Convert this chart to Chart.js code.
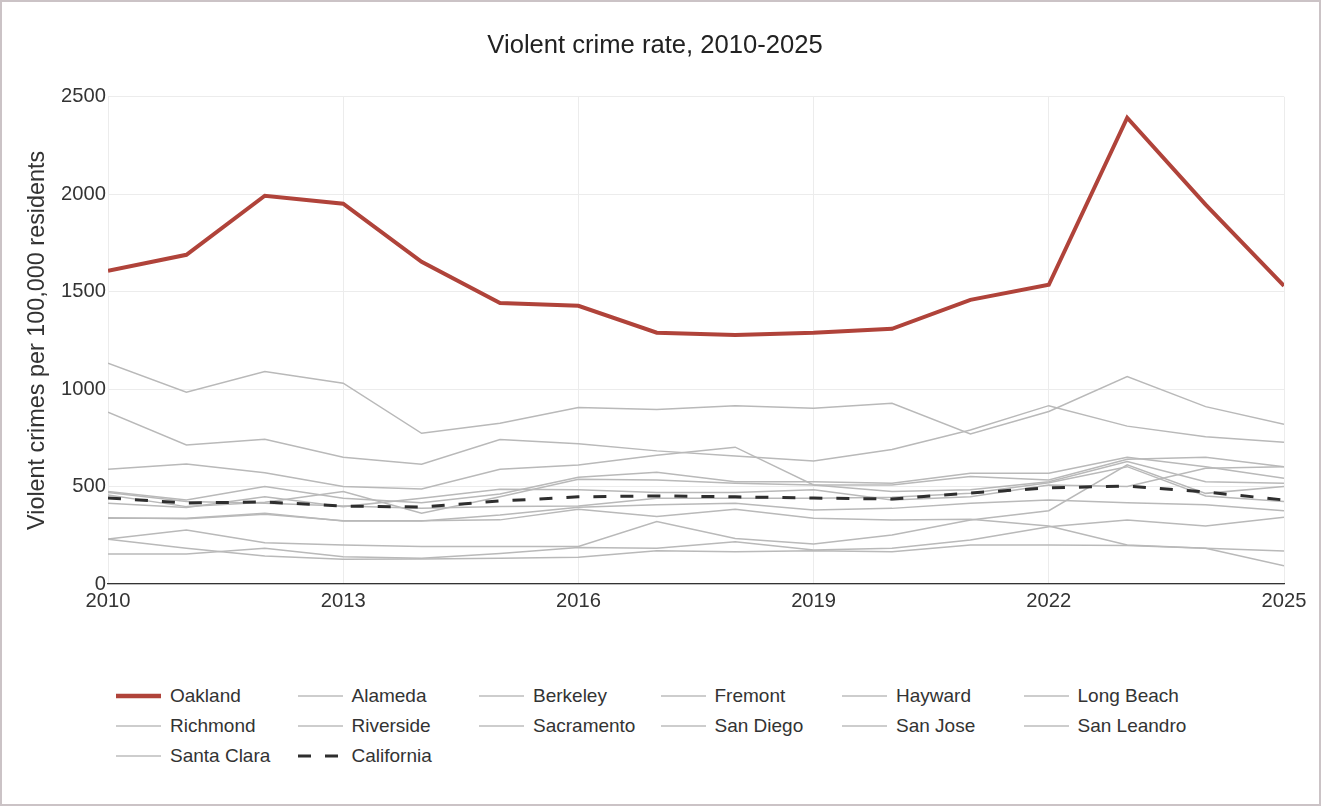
<!DOCTYPE html>
<html>
<head>
<meta charset="utf-8">
<title>Violent crime rate, 2010-2025</title>
<script src="https://cdn.jsdelivr.net/npm/chart.js@4.4.1/dist/chart.umd.min.js"></script>
<style>
  html, body { margin: 0; padding: 0; background: #fff; }
  #frame {
    position: relative; width: 1321px; height: 806px; box-sizing: border-box;
    border: 2px solid #cbc3c6; background: #fff;
    font-family: "Liberation Sans", Arial, sans-serif;
  }
  #chartBox { position: absolute; left: 0; top: 0; width: 1317px; height: 640px; }
  .item {
    position: absolute; height: 30px; display: flex; align-items: center;
    font-size: 19px; color: #333; white-space: nowrap;
  }
  .item svg { margin-right: 9px; flex: none; }
</style>
</head>
<body>
<div id="frame">
  <div id="chartBox"><canvas id="crime"></canvas></div>
  <div id="legend"></div>
</div>
<script>
// years on the x axis, ticks every 3 years
const years = [2010, 2011, 2012, 2013, 2014, 2015, 2016, 2017, 2018, 2019, 2020, 2021, 2022, 2023, 2024, 2025];
const xTicks = [2010, 2013, 2016, 2019, 2022, 2025];
const yTicks = [0, 500, 1000, 1500, 2000, 2500];

// violent crimes per 100,000 residents
const oakland    = [1607, 1689, 1992, 1951, 1653, 1442, 1427, 1289, 1278, 1289, 1309, 1458, 1535, 2392, 1946, 1530];
const alameda    = [229, 183, 144, 127, 128, 132, 137, 171, 166, 171, 166, 200, 200, 197, 183, 169];
const berkeley   = [457, 397, 420, 474, 363, 448, 537, 534, 517, 508, 474, 483, 525, 628, 525, 517];
const fremont    = [154, 154, 183, 140, 132, 157, 187, 183, 217, 175, 183, 226, 294, 328, 298, 342];
const hayward    = [414, 392, 448, 397, 440, 486, 483, 470, 469, 483, 431, 448, 508, 500, 594, 602];
const longBeach  = [589, 616, 571, 500, 488, 589, 611, 660, 702, 508, 508, 551, 534, 640, 650, 602];
const richmond   = [1133, 984, 1090, 1030, 773, 825, 905, 895, 914, 902, 927, 770, 885, 1064, 910, 820];
const riverside  = [470, 423, 414, 400, 388, 397, 400, 440, 440, 440, 445, 465, 520, 602, 452, 423];
const sacramento = [881, 713, 743, 650, 614, 741, 719, 683, 657, 631, 690, 790, 915, 810, 755, 727];
const sanDiego   = [337, 337, 363, 323, 323, 354, 394, 406, 414, 380, 388, 414, 431, 417, 406, 376];
const sanJose    = [474, 431, 500, 440, 417, 462, 548, 573, 525, 525, 517, 568, 568, 650, 602, 542];
const sanLeandro = [231, 277, 212, 200, 192, 192, 192, 320, 234, 205, 251, 328, 376, 611, 465, 500];
const santaClara = [340, 335, 358, 325, 325, 329, 383, 346, 383, 337, 328, 332, 298, 200, 183, 94];
const california = [441, 416, 421, 400, 395, 426, 447, 452, 447, 441, 436, 467, 493, 503, 472, 431];

const RED = '#b0433a';
const GRAY = '#b9b9b9';
const DARK = '#2e2e2e';

const series = [
  ['Oakland', oakland, 'main'],
  ['Alameda', alameda, 'gray'],
  ['Berkeley', berkeley, 'gray'],
  ['Fremont', fremont, 'gray'],
  ['Hayward', hayward, 'gray'],
  ['Long Beach', longBeach, 'gray'],
  ['Richmond', richmond, 'gray'],
  ['Riverside', riverside, 'gray'],
  ['Sacramento', sacramento, 'gray'],
  ['San Diego', sanDiego, 'gray'],
  ['San Jose', sanJose, 'gray'],
  ['San Leandro', sanLeandro, 'gray'],
  ['Santa Clara', santaClara, 'gray'],
  ['California', california, 'state']
];

const styles = {
  main:  { borderColor: RED, borderWidth: 4, order: 0, borderDash: [] },
  gray:  { borderColor: GRAY, borderWidth: 1.5, order: 2, borderDash: [] },
  state: { borderColor: DARK, borderWidth: 3, order: 1, borderDash: [13, 14] }
};

const datasets = series.map(([name, values, kind]) => ({
  label: name,
  data: values.map((v, i) => ({ x: years[i], y: v })),
  borderColor: styles[kind].borderColor,
  borderWidth: styles[kind].borderWidth,
  borderDash: styles[kind].borderDash,
  order: styles[kind].order,
  pointRadius: 0,
  tension: 0,
  fill: false
}));

const FONT = '"Liberation Sans", Arial, sans-serif';

new Chart(document.getElementById('crime'), {
  type: 'line',
  data: { datasets: datasets },
  options: {
    responsive: true,
    maintainAspectRatio: false,
    animation: false,
    layout: { padding: { left: 24, right: 35, top: 0, bottom: 0 } },
    plugins: {
      legend: { display: false },
      tooltip: { enabled: false },
      title: {
        display: true,
        text: 'Violent crime rate, 2010-2025',
        color: '#222',
        font: { family: FONT, size: 25.6, weight: 'normal' },
        padding: { top: 29, bottom: 35 }
      }
    },
    scales: {
      x: {
        type: 'linear',
        min: 2010,
        max: 2025,
        afterBuildTicks: (s) => { s.ticks = xTicks.map(v => ({ value: v })); },
        afterFit: (s) => { s.height = 58; },
        ticks: {
          color: '#333',
          padding: 5,
          maxRotation: 0,
          font: { family: FONT, size: 20.2 },
          callback: (v) => String(v)
        },
        grid: { color: '#ececec', lineWidth: 1, drawTicks: false },
        border: { display: true, color: '#333', width: 1.3 }
      },
      y: {
        min: 0,
        max: 2500,
        afterBuildTicks: (s) => { s.ticks = yTicks.map(v => ({ value: v })); },
        afterFit: (s) => { s.width = 82; },
        ticks: {
          color: '#333',
          padding: 2,
          font: { family: FONT, size: 20.2 },
          callback: (v) => String(v)
        },
        grid: { color: '#ececec', lineWidth: 1, drawTicks: false },
        border: { display: false },
        title: {
          display: true,
          text: 'Violent crimes per 100,000 residents',
          color: '#333',
          font: { family: FONT, size: 23.4, weight: 'normal', lineHeight: 1 },
          padding: { top: 0, bottom: 0 }
        }
      }
    }
  }
});

// legend in six columns under the plot
const legend = document.getElementById('legend');
series.forEach(([name, values, kind], i) => {
  const col = i % 6, row = Math.floor(i / 6);
  const st = styles[kind];
  const item = document.createElement('div');
  item.className = 'item';
  item.style.left = (114 + 181.5 * col) + 'px';
  item.style.top = (679 + 30 * row) + 'px';
  const stroke = kind === 'gray' ? '#bdbdbd' : st.borderColor;
  const w = kind === 'gray' ? 1.4 : st.borderWidth + (kind === 'main' ? 0.5 : 0);
  const dash = st.borderDash.length ? ' stroke-dasharray="13 14"' : '';
  item.innerHTML =
    '<svg width="45" height="10" viewBox="0 0 45 10"><line x1="0" y1="5" x2="45" y2="5" stroke="' +
    stroke + '" stroke-width="' + w + '"' + dash + '/></svg><span>' + name + '</span>';
  legend.appendChild(item);
});
</script>
</body>
</html>
